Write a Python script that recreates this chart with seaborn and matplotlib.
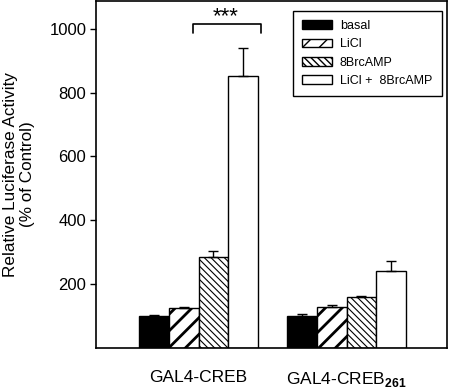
import pandas as pd
import matplotlib.pyplot as plt
import seaborn as sns
import matplotlib.patches as mpatches

sns.set_theme(style="ticks")
plt.rcParams["font.family"] = ["Liberation Sans", "DejaVu Sans"]
plt.rcParams["mathtext.fontset"] = "custom"
plt.rcParams["mathtext.rm"] = "Liberation Sans"
plt.rcParams["mathtext.bf"] = "Liberation Sans:bold"
plt.rcParams["text.color"] = "black"
plt.rcParams["axes.labelcolor"] = "black"
plt.rcParams["xtick.color"] = "black"
plt.rcParams["ytick.color"] = "black"

constructs = ["GAL4-CREB", "GAL4-CREB$_{\\mathbf{261}}$"]
treatments = ["basal", "LiCl", "8BrcAMP", "LiCl +  8BrcAMP"]
# % of control, one list per treatment (CREB, CREB261)
basal = [100, 100]
licl = [124, 129]
br_camp = [286, 160]
licl_br = [852, 242]
# upper SEM
basal_err = [2, 6]
licl_err = [5, 6]
br_camp_err = [17, 3]
licl_br_err = [87, 30]

values = [basal, licl, br_camp, licl_br]
errors = [basal_err, licl_err, br_camp_err, licl_br_err]

df = pd.DataFrame({
    "construct": [c for _ in treatments for c in constructs],
    "treatment": [t for t in treatments for _ in constructs],
    "activity": [v for vals in values for v in vals],
})

colors = ["black", "white", "white", "white"]
hatches = ["", "//", "\\\\\\\\\\", ""]
hatch_lw = [1.0, 2.0, 0.8, 1.0]

fig = plt.figure(figsize=(4.5, 3.92), dpi=100)
ax = fig.add_axes([0.2133, 0.1122, 0.7794, 0.8852])

sns.barplot(data=df, x="construct", y="activity", hue="treatment",
            hue_order=treatments, order=constructs, palette=colors,
            edgecolor="black", linewidth=1, errorbar=None, width=0.8,
            legend=False, ax=ax)

for cont, h, hlw, errs in zip(ax.containers, hatches, hatch_lw, errors):
    xs = []
    ys = []
    for bar in cont:
        bar.set_hatch(h)
        if hasattr(bar, "set_hatch_linewidth"):
            bar.set_hatch_linewidth(hlw)
        xs.append(bar.get_x() + bar.get_width() / 2)
        ys.append(bar.get_height())
    ax.errorbar(xs, ys, yerr=[[0] * len(errs), errs], fmt="none",
                ecolor="black", elinewidth=1, capsize=3.6, capthick=1, zorder=1)

# significance bracket
ax.plot([-0.04, -0.04, 0.42, 0.42], [987, 1014, 1014, 987], color="black", lw=1.2)
ax.text(0.18, 1004, "***", ha="center", va="bottom", fontsize=16)

ax.set_xlim(-0.693, 1.677)
ax.set_ylim(0, 1087)
ax.set_yticks([200, 400, 600, 800, 1000])
ax.tick_params(axis="y", labelsize=12, length=4, width=1, direction="out", pad=3)
ax.tick_params(axis="x", labelsize=12.5, length=0, pad=16)
for s in ax.spines.values():
    s.set_color("black")
    s.set_linewidth(1.2)
ax.set_xlabel("")
ax.set_ylabel("Relative Luciferase Activity\n(% of Control)", fontsize=12.3, labelpad=10)

handles = []
for c, h, hlw in zip(colors, hatches, hatch_lw):
    p = mpatches.Patch(facecolor=c, edgecolor="black", hatch=h, linewidth=1)
    if hasattr(p, "set_hatch_linewidth"):
        p.set_hatch_linewidth(hlw)
    handles.append(p)
leg = ax.legend(handles=handles, labels=treatments, loc="upper right",
                bbox_to_anchor=(0.9857, 0.972), borderaxespad=0, fontsize=9,
                fancybox=False, frameon=True, edgecolor="black", framealpha=1,
                handlelength=2.4, handleheight=0.7, handletextpad=0.6,
                labelspacing=0.5, borderpad=0.75)
leg.get_frame().set_linewidth(1)

fig.savefig("out.png", dpi=100)
